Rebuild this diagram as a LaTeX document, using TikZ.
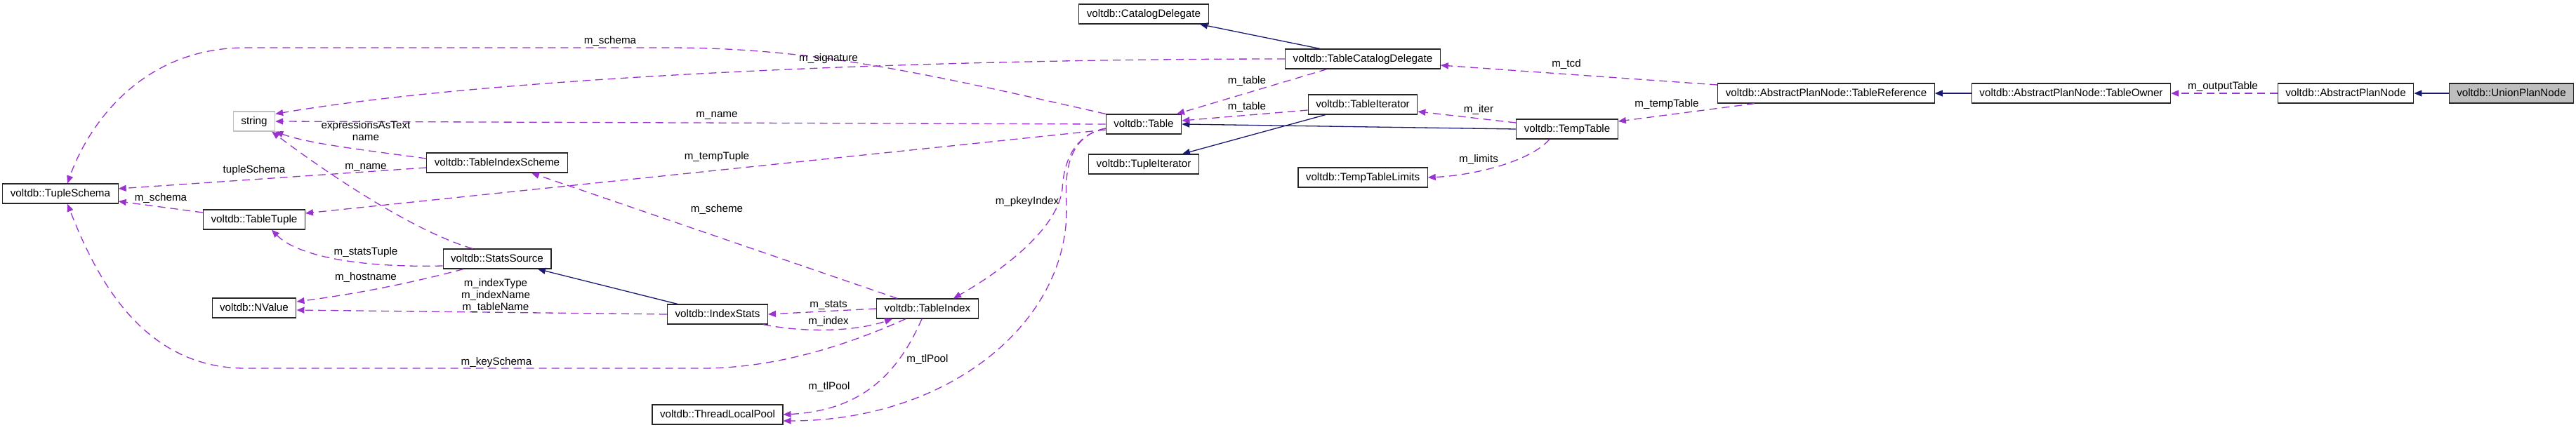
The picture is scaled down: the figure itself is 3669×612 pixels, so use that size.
\documentclass[tikz,border=0pt]{standalone}
\usepackage{fontspec}
\setmainfont{Liberation Sans}
\usetikzlibrary{arrows.meta}
\definecolor{usecolor}{HTML}{9A32CD}
\definecolor{inhcolor}{HTML}{191970}
\definecolor{nodoc}{HTML}{BFBFBF}
\begin{document}
\begin{tikzpicture}[x=0.5pt, y=-0.5pt, font=\fontsize{7.6}{8.5}\selectfont]

	% Define custom styles for class boxes and edges
	\tikzstyle{classbox} = [rectangle, draw=black!85, line width=0.6pt, fill=white, minimum height=14pt,
	inner xsep=5.5pt, inner ysep=0pt, text height=5.6pt, text depth=1.6pt]
	\tikzstyle{edgelabel} = [inner sep=0pt, align=center, text height=5.6pt, text depth=1.6pt]
	\tikzstyle{usage} = [draw=usecolor, dash pattern=on 5.5pt off 3.5pt, line width=0.65pt,
	-{Triangle[length=5.5pt, width=4.5pt]}]
	\tikzstyle{inherit} = [draw=inhcolor, line width=0.65pt, -{Triangle[length=5.5pt, width=4.5pt]}]

	\useasboundingbox (0,0) rectangle (3669,612);

	% Class boxes, left part
	\node[classbox] (tupleschema) at (86,276) {voltdb::TupleSchema};
	\node[classbox, draw=nodoc] (string) at (362,173) {string};
	\node[classbox] (tabletuple) at (362,313) {voltdb::TableTuple};
	\node[classbox] (nvalue) at (362,439) {voltdb::NValue};
	\node[classbox] (indexscheme) at (708,232) {voltdb::TableIndexScheme};
	\node[classbox] (statssource) at (708,369) {voltdb::StatsSource};
	\node[classbox] (indexstats) at (1022,448) {voltdb::IndexStats};
	\node[classbox] (tableindex) at (1321,440) {voltdb::TableIndex};
	\node[classbox] (localpool) at (1022,591) {voltdb::ThreadLocalPool};

	% Class boxes, middle part
	\node[classbox] (catalogdelegate) at (1629,20) {voltdb::CatalogDelegate};
	\node[classbox] (tabledelegate) at (1941,84) {voltdb::TableCatalogDelegate};
	\node[classbox] (table) at (1629,177) {voltdb::Table};
	\node[classbox] (tableiterator) at (1941,149) {voltdb::TableIterator};
	\node[classbox] (tupleiterator) at (1629,234) {voltdb::TupleIterator};
	\node[classbox] (limits) at (1941,253) {voltdb::TempTableLimits};
	\node[classbox] (temptable) at (2232,184) {voltdb::TempTable};

	% Class boxes, right part
	\node[classbox] (tableref) at (2601,133) {voltdb::AbstractPlanNode::TableReference};
	\node[classbox] (tableowner) at (2950,133) {voltdb::AbstractPlanNode::TableOwner};
	\node[classbox] (plannode) at (3341,133) {voltdb::AbstractPlanNode};
	\node[classbox, fill=nodoc] (unionnode) at (3577,133) {voltdb::UnionPlanNode};

	% Inheritance arrows
	\draw[inherit] ([xshift=-30.5pt]tabledelegate.north) -- ([xshift=40pt]catalogdelegate.south);
	\draw[inherit] ([xshift=-26.5pt]tableiterator.south) -- ([xshift=27.5pt]tupleiterator.north);
	\draw[inherit] (temptable.west) -- (table.east);
	\draw[inherit] ([xshift=-28.5pt]indexstats.north) -- ([xshift=29pt]statssource.south);
	\draw[inherit] (tableowner.west) -- (tableref.east);
	\draw[inherit] (unionnode.west) -- (plannode.east);

	% Usage arrows, right part
	\draw[usage] (plannode.west) -- (tableowner.east);
	\draw[usage] ([yshift=6pt]tableref.west) -- ([yshift=-4.5pt]tabledelegate.east);
	\draw[usage] ([xshift=-51pt]tableref.south) -- ([yshift=5.5pt]temptable.east);
	\draw[usage] ([yshift=4.5pt]temptable.west) -- ([yshift=-5pt]tableiterator.east);
	\draw[usage] ([xshift=-12.5pt]temptable.south) .. controls (2180,230) and (2100,250) .. (limits.east);
	\draw[usage] ([xshift=-25.5pt]tabledelegate.south) -- ([xshift=23.5pt]table.north);
	\draw[usage] ([yshift=-4pt]tableiterator.west) -- ([yshift=2.5pt]table.east);

	% Usage arrows from the table classes
	\draw[usage] (tabledelegate.west) .. controls (1300,84) and (700,110) .. ([yshift=-2pt]string.north east);
	\draw[usage] (table.west) -- (string.east);
	\draw[usage] (table.north west) .. controls (1300,100) and (1150,68) .. (950,68) -- (350,68)
	.. controls (200,68) and (125,180) .. ([xshift=5pt]tupleschema.north);
	\draw[usage] ([yshift=-4pt]table.west) -- ([yshift=4.5pt]tabletuple.east);
	\draw[usage] ([yshift=-3pt]table.west) .. controls (1530,192) and (1515,230) .. (1513,270)
	.. controls (1505,330) and (1420,390) .. ([xshift=18.5pt]tableindex.north);
	\draw[usage] ([yshift=-3pt]table.west) .. controls (1530,192) and (1515,230) .. (1519,290)
	.. controls (1525,460) and (1350,600) .. ([yshift=-4.5pt]localpool.east);

	% Usage arrows around the index classes
	\draw[usage] ([xshift=-4pt]tableindex.south) .. controls (1280,530) and (1230,585) .. (localpool.east);
	\draw[usage] (tableindex.west) -- (indexstats.east);
	\draw[usage] ([xshift=32.5pt]indexstats.south) .. controls (1150,475) and (1220,472) .. ([xshift=-25pt]tableindex.south);
	\draw[usage] ([xshift=-15.5pt]tableindex.south) .. controls (1200,495) and (1100,525) .. (1000,525) -- (350,525)
	.. controls (200,525) and (135,390) .. ([xshift=5pt]tupleschema.south);
	\draw[usage] ([xshift=-21.5pt]tableindex.north) -- ([xshift=24.5pt]indexscheme.south);
	\draw[usage] ([yshift=3pt]indexscheme.west) .. controls (520,214) and (440,205) .. (string.south east);
	\draw[usage] ([yshift=-3.5pt]indexscheme.west) -- ([yshift=3.5pt]tupleschema.east);
	\draw[usage] ([yshift=5pt]tabletuple.west) -- ([yshift=-5.5pt]tupleschema.east);
	\draw[usage] ([xshift=-17.5pt]statssource.north) .. controls (590,330) and (470,250) .. ([xshift=-2.5pt]string.south east);
	\draw[usage] ([yshift=-5pt]statssource.west) .. controls (500,382) and (420,362) .. ([xshift=12.5pt]tabletuple.south);
	\draw[usage] ([xshift=-24pt]statssource.south) .. controls (580,405) and (500,420) .. ([yshift=4.5pt]nvalue.east);
	\draw[usage] (indexstats.west) -- ([yshift=-1.5pt]nvalue.east);

	% Edge labels
	\node[edgelabel] (lbloutput) at (3166,123) {m\_outputTable};
	\node[edgelabel] (lbltcd) at (2231,91) {m\_tcd};
	\node[edgelabel] (lbltemptable) at (2374,148) {m\_tempTable};
	\node[edgelabel] (lbliter) at (2106,156) {m\_iter};
	\node[edgelabel] (lbllimits) at (2106,227) {m\_limits};
	\node[edgelabel] (lbltablea) at (1776,115) {m\_table};
	\node[edgelabel] (lbltableb) at (1776,152) {m\_table};
	\node[edgelabel] (lblsignature) at (1180,83) {m\_signature};
	\node[edgelabel] (lblschemaa) at (869,58) {m\_schema};
	\node[edgelabel] (lblnamea) at (1021,163) {m\_name};
	\node[edgelabel] (lbltemptuple) at (1021,223) {m\_tempTuple};
	\node[edgelabel] (lblpkey) at (1463,287) {m\_pkeyIndex};
	\node[edgelabel] (lblscheme) at (1021,298) {m\_scheme};
	\node[edgelabel] (lblpoola) at (1321,512) {m\_tlPool};
	\node[edgelabel] (lblpoolb) at (1181,551) {m\_tlPool};
	\node[edgelabel] (lblstats) at (1180,434) {m\_stats};
	\node[edgelabel] (lblindex) at (1180,458) {m\_index};
	\node[edgelabel] (lblkeyschema) at (707,516) {m\_keySchema};
	\node[inner sep=0pt, align=center] (lblnames) at (706,421) {m\_indexType\\m\_indexName\\m\_tableName};
	\node[edgelabel] (lblhost) at (521,395) {m\_hostname};
	\node[edgelabel] (lblstatstuple) at (521,359) {m\_statsTuple};
	\node[edgelabel] (lblnameb) at (521,237) {m\_name};
	\node[inner sep=0pt, align=center] (lblexpr) at (521,187) {expressionsAsText\\name};
	\node[edgelabel] (lbltupleschema) at (362,242) {tupleSchema};
	\node[edgelabel] (lblschemab) at (229,282) {m\_schema};

\end{tikzpicture}
\end{document}
